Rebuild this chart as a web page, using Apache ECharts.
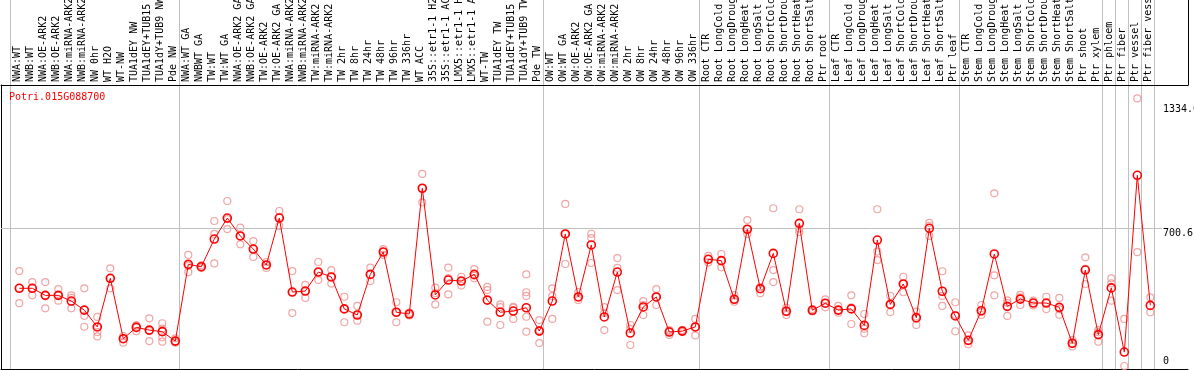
<!DOCTYPE html>
<html><head><meta charset="utf-8">
<script src="https://cdn.jsdelivr.net/npm/echarts@6/dist/echarts.min.js"></script>
<style>html,body{margin:0;padding:0;background:#fff}#c{width:1194px;height:370px}</style>
</head><body><div id="c"></div>
<script>
const geneId = 'Potri.015G088700';

const categories = [
  'NWA:WT','NWB:WT','NWA:OE-ARK2','NWB:OE-ARK2','NWA:miRNA-ARK2','NWB:miRNA-ARK2','NW 0hr','WT H2O','WT-NW',
  'TUA1dEY NW','TUA1dEY+TUB15 NW','TUA1dY+TUB9 NW','Pde NW',
  'NWA:WT GA','NWBWT GA','TW:WT','TW:WT GA','NWA:OE-ARK2 GA','NWB:OE-ARK2 GA','TW:OE-ARK2','TW:OE-ARK2 GA',
  'NWA:miRNA-ARK2','NWB:miRNA-ARK2','TW:miRNA-ARK2','TW:miRNA-ARK2','TW 2hr','TW 8hr','TW 24hr','TW 48hr','TW 96hr','TW 336hr',
  'WT ACC','35S::etr1-1 H2O','35S::etr1-1 ACC','LMX5::etr1-1 H2O','LMX5::etr1-1 ACC','WT-TW','TUA1dEY TW','TUA1dEY+TUB15 TW','TUA1dY+TUB9 TW','Pde TW',
  'OW:WT','OW:WT GA','OW:OE-ARK2','OW:OE-ARK2 GA','OW:miRNA-ARK2','OW:miRNA-ARK2','OW 2hr','OW 8hr','OW 24hr','OW 48hr','OW 96hr','OW 336hr',
  'Root CTR','Root LongCold','Root LongDrought','Root LongHeat','Root LongSalt','Root ShortCold','Root ShortDrought','Root ShortHeat','Root ShortSalt','Ptr root',
  'Leaf CTR','Leaf LongCold','Leaf LongDrought','Leaf LongHeat','Leaf LongSalt','Leaf ShortCold','Leaf ShortDrought','Leaf ShortHeat','Leaf ShortSalt','Ptr leaf',
  'Stem CTR','Stem LongCold','Stem LongDrought','Stem LongHeat','Stem LongSalt','Stem ShortCold','Stem ShortDrought','Stem ShortHeat','Stem ShortSalt','Ptr shoot','Ptr xylem',
  'Ptr phloem','Ptr fiber','Ptr vessel','Ptr fiber vessel'
];

const means = [
  396,396,360,360,331,285,199,447,139,197,183,175,127,
  518,506,647,754,663,596,515,754,377,382,479,454,291,260,467,581,274,265,906,362,438,433,467,336,274,280,297,178,
  331,673,352,617,250,479,168,301,352,173,178,199,
  544,537,340,697,394,574,279,727,284,320,
  285,291,207,642,314,418,246,702,381,255,
  131,282,571,304,341,321,321,299,116,489,160,
  398,71,972,309
];

const replicates = [
  [484,398,320],[428,398,360],[428,360,294],[392,360,333],[360,347,294],[396,256,200],[250,199,173,151],[498,447,396],[153,139,119],
  [209,205,177],[243,179,127],[218,190,146,124],[141,127,119],
  [566,510,478],[513,506,499],[739,673,523],[841,749,698],[705,663,620],[637,596,556],[530,515,500],[790,760,713],
  [484,377,270],[413,382,347],[530,479,438],[489,454,420],[353,291,223],[306,260,231],[501,467,433],[596,581,566],[325,274,223],[272,265,258],
  [979,906,834],[399,372,314],[501,448,365],[455,433,410],[494,460,447],[403,387,226],[314,300,209],[302,298,240],[467,376,357,251,175],[234,183,117],
  [396,356,240],[826,673,520],[377,352,336],[674,652,525],[300,270,183],[550,500,387],[209,189,107],[331,311,260],[392,352,311],[183,178,158],[183,178,173],[240,199,156],
  [561,544,527],[571,537,503],[362,340,328],[744,697,673],[404,394,371],[804,489,428],[297,279,260],[799,700,683],[290,284,278],[340,320,299],
  [306,285,272],[360,299,214],[265,190,167],[799,583,540],[358,314,275],[455,418,376],[277,252,209],[730,715,663],[483,357,306],[325,260,177],
  [156,126,111],[311,275,260],[880,462,360],[335,322,255],[363,350,311],[333,321,309],[353,321,290],[347,290,261],[133,116,100],[554,495,418],[183,172,124],
  [447,421,333],[240,0],[1364,580],[350,274]
];

// first category index of each tissue/experiment block (separator drawn on its left edge)
const groupStarts = [0, 13, 41, 53, 63, 73, 84, 85, 86, 87];
const yTickValues = [700.6, 1334];
const yZeroTick = [0];

const Y_MAX = 1432.3;
const MONO = '"DejaVu Sans Mono", monospace';

const repPoints = [];
replicates.forEach((reps, i) => reps.forEach(v => repPoints.push([i, v])));

const chart = echarts.init(document.getElementById('c'), null, {renderer: 'canvas'});
const noAxis = {show: false};
const blackLine = {show: true, onZero: false, lineStyle: {color: '#000', width: 1}};
chart.setOption({
  animation: false,
  backgroundColor: '#ffffff',
  title: {
    text: geneId, left: 9, top: 92, padding: 0,
    textStyle: {color: '#ff0000', fontFamily: MONO, fontSize: 10, fontWeight: 'normal'}
  },
  grid: [
    // 0: frame box of the plot
    {left: 1, right: 6, top: 85, bottom: 1, outerBoundsMode: 'none'},
    // 1: label box right edge
    {left: 1, right: 6, top: 0, height: 85, outerBoundsMode: 'none'},
    // 2: block separators (full height)
    {left: 10.7, right: 39.3, top: 0, bottom: 1, outerBoundsMode: 'none'},
    // 3: category labels
    {left: 10.7, right: 39.3, top: 85, bottom: 1, outerBoundsMode: 'none'},
    // 4: horizontal reference + value labels
    {left: 1, right: 32, top: 85, bottom: 4, outerBoundsMode: 'none'},
    // 5: data
    {left: 12.8, right: 37.2, top: 85, bottom: 4, outerBoundsMode: 'none'}
  ],
  xAxis: [
    {gridIndex: 0, type: 'value', position: 'top', min: 0, max: 1,
     axisLine: blackLine, axisTick: noAxis, axisLabel: noAxis, splitLine: noAxis},
    {gridIndex: 0, type: 'value', position: 'bottom', min: 0, max: 1,
     axisLine: blackLine, axisTick: noAxis, axisLabel: noAxis, splitLine: noAxis},
    {gridIndex: 1, type: 'value', show: false, min: 0, max: 1},
    {gridIndex: 2, type: 'category', data: categories, position: 'top', boundaryGap: true,
     axisLine: noAxis, axisTick: noAxis, axisLabel: noAxis,
     splitLine: {show: true, interval: (idx) => groupStarts.indexOf(idx) >= 0, lineStyle: {color: '#c0c0c0', width: 1}}},
    {gridIndex: 3, type: 'category', data: categories, position: 'top', boundaryGap: true,
     axisLine: noAxis, axisTick: noAxis, splitLine: noAxis,
     axisLabel: {show: true, interval: 0, rotate: 90, margin: 3, color: '#000', fontFamily: MONO, fontSize: 10, hideOverlap: false}},
    {gridIndex: 4, type: 'value', show: false, min: 0, max: 1},
    {gridIndex: 5, type: 'category', data: categories, boundaryGap: true, show: false}
  ],
  yAxis: [
    {gridIndex: 0, type: 'value', position: 'left', min: 0, max: 1,
     axisLine: blackLine, axisTick: noAxis, axisLabel: noAxis, splitLine: noAxis},
    {gridIndex: 1, type: 'value', position: 'right', min: 0, max: 1,
     axisLine: blackLine, axisTick: noAxis, axisLabel: noAxis, splitLine: noAxis},
    {gridIndex: 2, type: 'value', show: false, min: 0, max: 1},
    {gridIndex: 3, type: 'value', show: false, min: 0, max: 1},
    {gridIndex: 4, type: 'value', position: 'right', min: 0, max: Y_MAX,
     axisLine: {show: false, onZero: false}, axisTick: noAxis, splitLine: noAxis,
     axisLabel: {show: true, customValues: yTickValues, margin: 1, verticalAlign: 'top', color: '#000',
       fontFamily: MONO, fontSize: 10, formatter: v => Number(v).toFixed(1)}},
    {gridIndex: 4, type: 'value', position: 'right', min: 0, max: Y_MAX,
     axisLine: {show: false, onZero: false}, axisTick: noAxis, splitLine: noAxis,
     axisLabel: {show: true, customValues: yZeroTick, margin: 1, verticalAlign: 'bottom', color: '#000',
       fontFamily: MONO, fontSize: 10, formatter: v => String(v)}},
    {gridIndex: 5, type: 'value', show: false, min: 0, max: Y_MAX}
  ],
  series: [
    {type: 'scatter', xAxisIndex: 5, yAxisIndex: 4, data: [[0.5, 0]], symbolSize: 0, silent: true,
     markLine: {silent: true, symbol: 'none', label: {show: false},
       lineStyle: {color: '#c0c0c0', width: 1, type: 'solid'},
       data: [{yAxis: yTickValues[0]}]}},
    {type: 'scatter', xAxisIndex: 6, yAxisIndex: 6, data: repPoints, z: 3,
     symbol: 'circle', symbolSize: 7,
     itemStyle: {color: 'rgba(0,0,0,0)', borderColor: '#ee8e8e', borderWidth: 1.2}},
    {type: 'line', xAxisIndex: 6, yAxisIndex: 6, data: means, z: 5,
     symbol: 'circle', symbolSize: 8, showAllSymbol: true,
     lineStyle: {color: '#ff0000', width: 1},
     itemStyle: {color: 'rgba(0,0,0,0)', borderColor: '#ff0000', borderWidth: 1.6}}
  ]
});
</script>
</body></html>
